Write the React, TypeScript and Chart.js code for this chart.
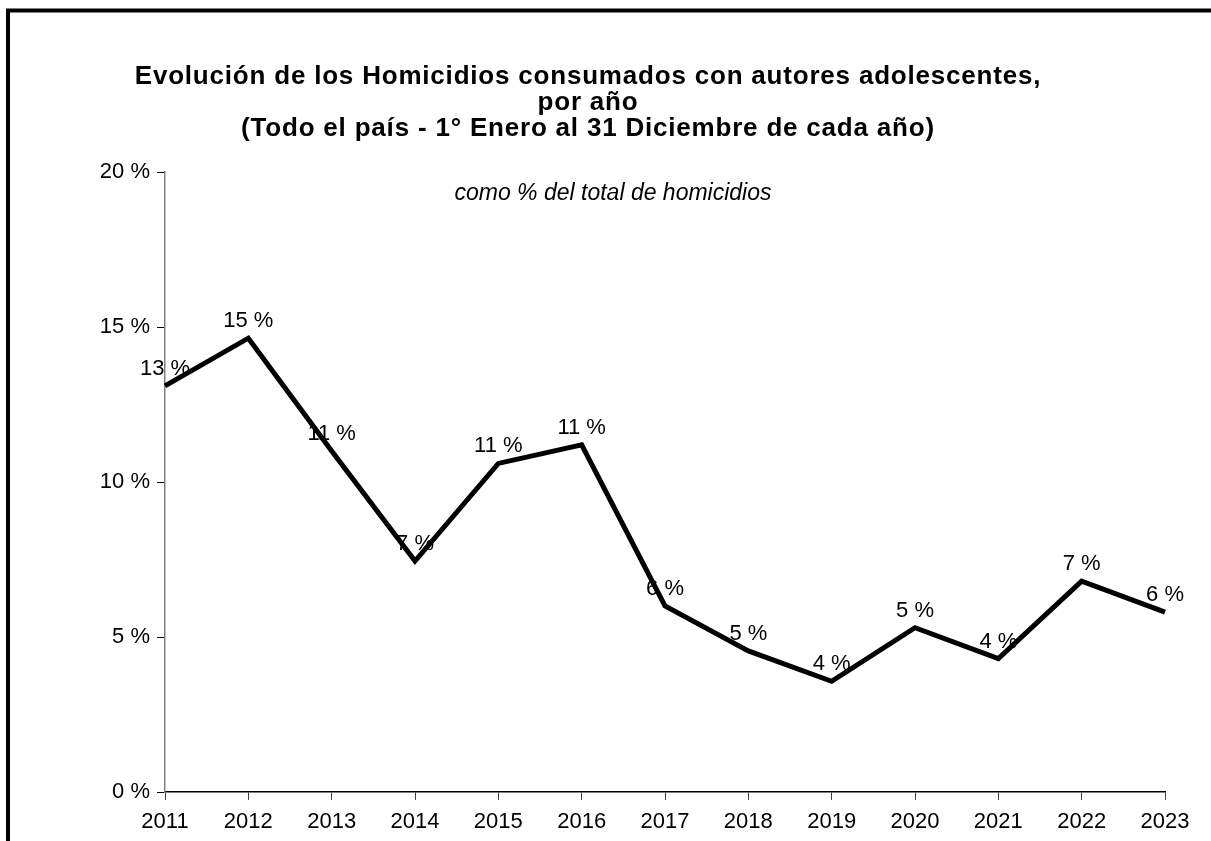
import React, { useEffect, useRef } from "react";
import { Chart, registerables } from "chart.js";

Chart.register(...registerables);

const years = ["2011", "2012", "2013", "2014", "2015", "2016", "2017", "2018", "2019", "2020", "2021", "2022", "2023"];
const shares = [13.1, 14.64, 11.0, 7.45, 10.6, 11.2, 6.0, 4.55, 3.57, 5.3, 4.3, 6.8, 5.8];
const yTicks = [0, 5, 10, 15, 20];
const titleLines = [
  "Evolución de los Homicidios consumados con autores adolescentes,",
  "por año",
  "(Todo el país - 1° Enero al 31 Diciembre de cada año)",
];
const subtitle = "como % del total de homicidios";

const FONT = "'Liberation Sans', Arial, sans-serif";

const decorPlugin = {
  id: "decor",
  beforeDraw(chart: any) {
    const ctx = chart.ctx;
    ctx.save();
    ctx.fillStyle = "#fff";
    ctx.fillRect(0, 0, chart.width, chart.height);
    ctx.strokeStyle = "#000";
    ctx.lineWidth = 4;
    ctx.strokeRect(8, 10.5, chart.width + 20, chart.height + 20);
    ctx.fillStyle = "#000";
    ctx.textAlign = "center";
    ctx.textBaseline = "alphabetic";
    ctx.font = `bold 26px ${FONT}`;
    (ctx as any).letterSpacing = "0.8px";
    titleLines.forEach((t, i) => ctx.fillText(t, 588, 84 + i * 26));
    (ctx as any).letterSpacing = "0px";
    ctx.font = `italic 23px ${FONT}`;
    ctx.fillText(subtitle, 613, 200);
    ctx.restore();
  },
  beforeDatasetsDraw(chart: any) {
    const ctx = chart.ctx;
    const meta = chart.getDatasetMeta(0);
    ctx.save();
    ctx.fillStyle = "#000";
    ctx.font = `22px ${FONT}`;
    ctx.textAlign = "center";
    ctx.textBaseline = "middle";
    meta.data.forEach((pt: any, i: number) => {
      const v = chart.data.datasets[0].data[i] as number;
      ctx.fillText(`${Math.round(v)} %`, pt.x, pt.y - 17);
    });
    ctx.restore();
  },
};

export default function App() {
  const ref = useRef<HTMLCanvasElement>(null);
  useEffect(() => {
    if (!ref.current) return;
    const chart = new Chart(ref.current, {
      type: "line",
      data: {
        labels: years,
        datasets: [
          {
            data: shares,
            borderColor: "#000",
            borderWidth: 5,
            borderJoinStyle: "miter",
            pointRadius: 0,
            tension: 0,
            fill: false,
          },
        ],
      },
      plugins: [decorPlugin],
      options: {
        animation: false,
        responsive: false,
        devicePixelRatio: 1,
        layout: { padding: { left: 0, right: 46, top: 172, bottom: 0 } },
        plugins: { legend: { display: false }, title: { display: false }, tooltip: { enabled: false } },
        scales: {
          x: {
            type: "category",
            offset: false,
            grid: { drawOnChartArea: false, drawTicks: true, tickLength: 8, color: "#444" },
            border: { display: true, color: "#000", width: 1.5 },
            ticks: { color: "#000", font: { family: FONT, size: 22 }, padding: 9, maxRotation: 0, autoSkip: false },
            afterFit(scale: any) {
              scale.height = 49;
            },
          },
          y: {
            min: 0,
            max: 20,
            afterBuildTicks(scale: any) {
              scale.ticks = yTicks.map((v) => ({ value: v }));
            },
            grid: { drawOnChartArea: false, drawTicks: true, tickLength: 8, color: "#000" },
            border: { display: true, color: "#808080", width: 1.5 },
            ticks: {
              color: "#000",
              font: { family: FONT, size: 22 },
              padding: 7,
              callback: (v: any) => `${v} %`,
            },
            afterFit(scale: any) {
              scale.width = 165;
            },
          },
        },
      },
    });
    return () => chart.destroy();
  }, []);
  return (
    <div style={{ position: "absolute", left: 0, top: 0, width: 1211, height: 841 }}>
      <canvas ref={ref} width={1211} height={841} style={{ display: "block", width: 1211, height: 841 }} />
    </div>
  );
}
